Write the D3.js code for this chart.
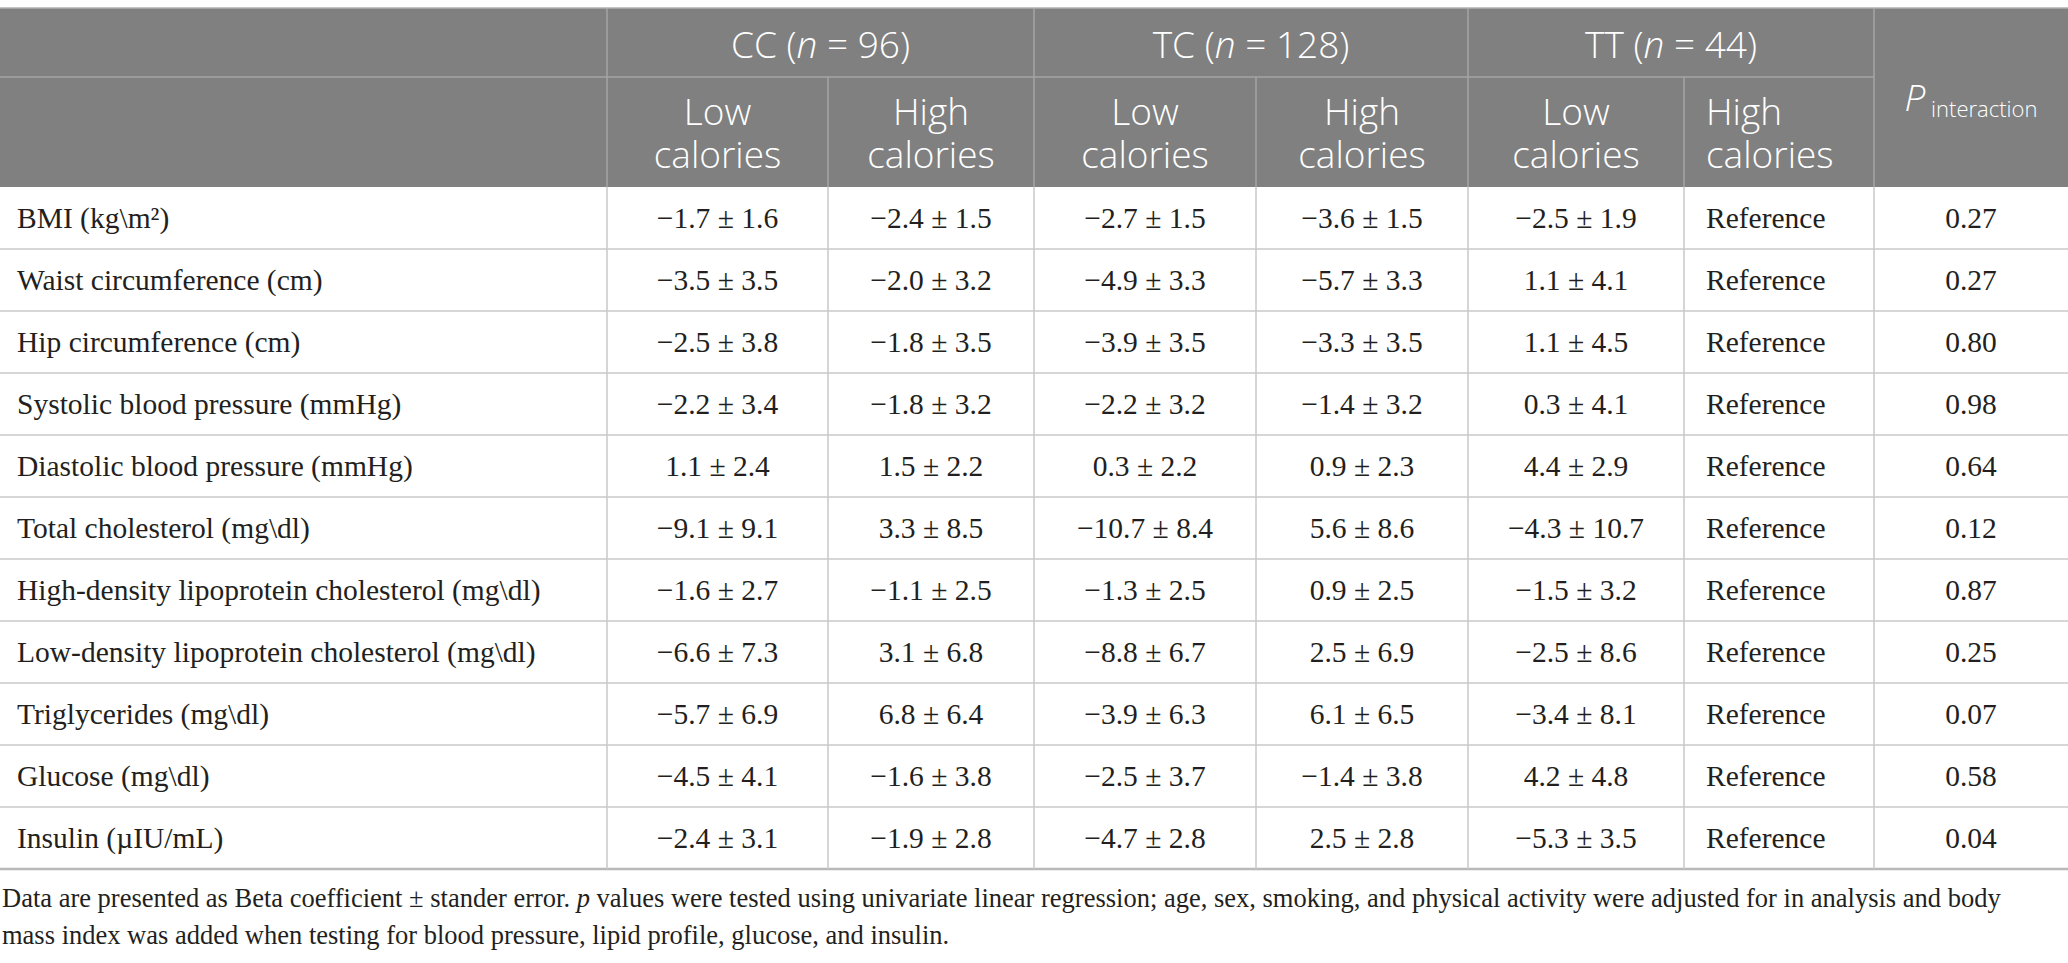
<!DOCTYPE html>
<html>
<head>
<meta charset="utf-8">
<script src="https://cdn.jsdelivr.net/npm/d3@7"></script>
<style>
  body { margin: 0; background: #fff; }
  svg { display: block; }
</style>
</head>
<body>
<svg id="table"></svg>
<script>
// row labels
const rowLabels = [
  "BMI (kg\\m²)",
  "Waist circumference (cm)",
  "Hip circumference (cm)",
  "Systolic blood pressure (mmHg)",
  "Diastolic blood pressure (mmHg)",
  "Total cholesterol (mg\\dl)",
  "High-density lipoprotein cholesterol (mg\\dl)",
  "Low-density lipoprotein cholesterol (mg\\dl)",
  "Triglycerides (mg\\dl)",
  "Glucose (mg\\dl)",
  "Insulin (µIU/mL)"
];

// beta coefficient and standard error per genotype x calorie group
const ccLowBeta  = [-1.7, -3.5, -2.5, -2.2, 1.1, -9.1, -1.6, -6.6, -5.7, -4.5, -2.4];
const ccLowSE    = [1.6, 3.5, 3.8, 3.4, 2.4, 9.1, 2.7, 7.3, 6.9, 4.1, 3.1];
const ccHighBeta = [-2.4, -2.0, -1.8, -1.8, 1.5, 3.3, -1.1, 3.1, 6.8, -1.6, -1.9];
const ccHighSE   = [1.5, 3.2, 3.5, 3.2, 2.2, 8.5, 2.5, 6.8, 6.4, 3.8, 2.8];
const tcLowBeta  = [-2.7, -4.9, -3.9, -2.2, 0.3, -10.7, -1.3, -8.8, -3.9, -2.5, -4.7];
const tcLowSE    = [1.5, 3.3, 3.5, 3.2, 2.2, 8.4, 2.5, 6.7, 6.3, 3.7, 2.8];
const tcHighBeta = [-3.6, -5.7, -3.3, -1.4, 0.9, 5.6, 0.9, 2.5, 6.1, -1.4, 2.5];
const tcHighSE   = [1.5, 3.3, 3.5, 3.2, 2.3, 8.6, 2.5, 6.9, 6.5, 3.8, 2.8];
const ttLowBeta  = [-2.5, 1.1, 1.1, 0.3, 4.4, -4.3, -1.5, -2.5, -3.4, 4.2, -5.3];
const ttLowSE    = [1.9, 4.1, 4.5, 4.1, 2.9, 10.7, 3.2, 8.6, 8.1, 4.8, 3.5];
const pInteraction = [0.27, 0.27, 0.80, 0.98, 0.64, 0.12, 0.87, 0.25, 0.07, 0.58, 0.04];

// header labels
const groupLabels = [
  {name: "CC", n: 96},
  {name: "TC", n: 128},
  {name: "TT", n: 44}
];
const subLabels = ["Low", "High"];
const referenceLabel = "Reference";

const footnote1a = "Data are presented as Beta coefficient ± stander error. ";
const footnote1b = "p";
const footnote1c = " values were tested using univariate linear regression; age, sex, smoking, and physical activity were adjusted for in analysis and body";
const footnote2 = "mass index was added when testing for blood pressure, lipid profile, glucose, and insulin.";

// ---- layout ----
const width = 2068, height = 963;
const colEdges = [0, 607, 828, 1034, 1256, 1468, 1684, 1874, 2068];
const tableTop = 8, head1Bottom = 77, headBottom = 187, tableBottom = 869;

const headFill = "#808080";
const headLine = "#a4a4a4";
const gridLine = "#c9c9c9";
const textColor = "#231f20";
const sans = "'Open Sans', sans-serif";
const serif = "'Liberation Serif', 'Times New Roman', serif";

const fmt = d3.format(".1f");
const pfmt = d3.format(".2f");
const cell = (b, s) => `${fmt(b)} ± ${fmt(s)}`;

const svg = d3.select("#table")
  .attr("width", width)
  .attr("height", height);

// row scale
const y = d3.scaleBand()
  .domain(rowLabels)
  .range([headBottom, tableBottom]);

// ---- header background ----
svg.append("rect")
  .attr("x", 0).attr("y", tableTop)
  .attr("width", width).attr("height", headBottom - tableTop)
  .attr("fill", headFill);

const hl = svg.append("g").attr("stroke", headLine).attr("stroke-width", 1.5);
// line between header rows (not under P column)
hl.append("line")
  .attr("x1", 0).attr("x2", colEdges[7])
  .attr("y1", head1Bottom).attr("y2", head1Bottom);
// vertical lines in header
[1, 3, 5, 7].forEach(i => {
  hl.append("line")
    .attr("x1", colEdges[i]).attr("x2", colEdges[i])
    .attr("y1", tableTop).attr("y2", headBottom);
});
[2, 4, 6].forEach(i => {
  hl.append("line")
    .attr("x1", colEdges[i]).attr("x2", colEdges[i])
    .attr("y1", head1Bottom).attr("y2", headBottom);
});
svg.append("line")
  .attr("x1", 0).attr("x2", width)
  .attr("y1", tableTop).attr("y2", tableTop)
  .attr("stroke", "#b0b0b0").attr("stroke-width", 1.5);

// group headers
const gh = svg.append("g")
  .attr("font-family", sans).attr("font-size", 37).attr("font-weight", 300)
  .attr("fill", "#fff")
  .attr("text-anchor", "middle");
groupLabels.forEach((g, i) => {
  const cx = (colEdges[1 + i * 2] + colEdges[3 + i * 2]) / 2;
  const t = gh.append("text").attr("x", cx).attr("y", 58);
  t.append("tspan").text(`${g.name} (`);
  t.append("tspan").attr("font-style", "italic").text("n");
  t.append("tspan").text(` = ${g.n})`);
});

// sub headers
for (let i = 0; i < 6; i++) {
  const lab = subLabels[i % 2];
  const x0 = colEdges[1 + i], x1 = colEdges[2 + i];
  const leftAlign = i === 5;
  const tx = leftAlign ? x0 + 22 : (x0 + x1) / 2;
  const t = gh.append("text")
    .attr("text-anchor", leftAlign ? "start" : "middle")
    .attr("x", tx);
  t.append("tspan").attr("x", tx).attr("y", 125).text(lab);
  t.append("tspan").attr("x", tx).attr("y", 168).text("calories");
}

// P interaction
const pt = gh.append("text")
  .attr("x", (colEdges[7] + colEdges[8]) / 2).attr("y", 111);
pt.append("tspan").attr("font-style", "italic").text("P");
pt.append("tspan").attr("font-size", 22).attr("dy", 6).text(" interaction");

// ---- body ----
const series = [
  rowLabels.map((r, i) => cell(ccLowBeta[i], ccLowSE[i])),
  rowLabels.map((r, i) => cell(ccHighBeta[i], ccHighSE[i])),
  rowLabels.map((r, i) => cell(tcLowBeta[i], tcLowSE[i])),
  rowLabels.map((r, i) => cell(tcHighBeta[i], tcHighSE[i])),
  rowLabels.map((r, i) => cell(ttLowBeta[i], ttLowSE[i])),
  rowLabels.map(() => referenceLabel),
  pInteraction.map(p => pfmt(p))
];

const body = svg.append("g")
  .attr("font-family", serif).attr("font-size", 29.5).attr("fill", textColor);

// row lines
svg.append("g").selectAll("line")
  .data(rowLabels.slice(1))
  .join("line")
  .attr("x1", 0).attr("x2", width)
  .attr("y1", d => y(d)).attr("y2", d => y(d))
  .attr("stroke", gridLine).attr("stroke-width", 1.5);

svg.append("line")
  .attr("x1", 0).attr("x2", width)
  .attr("y1", tableBottom).attr("y2", tableBottom)
  .attr("stroke", "#b9b9b9").attr("stroke-width", 2.5);

// vertical body lines
svg.append("g").selectAll("line")
  .data(colEdges.slice(1, 8))
  .join("line")
  .attr("x1", d => d).attr("x2", d => d)
  .attr("y1", headBottom).attr("y2", tableBottom)
  .attr("stroke", gridLine).attr("stroke-width", 1.5);

// labels
body.selectAll("text.label")
  .data(rowLabels)
  .join("text")
  .attr("class", "label")
  .attr("x", 17)
  .attr("y", d => y(d) + y.bandwidth() / 2 + 10)
  .text(d => d);

// values
series.forEach((vals, c) => {
  const x0 = colEdges[1 + c], x1 = colEdges[2 + c];
  const leftAlign = c === 5;
  body.selectAll(`text.c${c}`)
    .data(vals)
    .join("text")
    .attr("class", `c${c}`)
    .attr("text-anchor", leftAlign ? "start" : "middle")
    .attr("x", leftAlign ? x0 + 22 : (x0 + x1) / 2)
    .attr("y", (d, i) => y(rowLabels[i]) + y.bandwidth() / 2 + 10)
    .text(d => d);
});

// ---- footnote ----
const fn = svg.append("g")
  .attr("font-family", serif).attr("font-size", 26.5).attr("fill", textColor);
const f1 = fn.append("text").attr("x", 2).attr("y", 907);
f1.append("tspan").text(footnote1a);
f1.append("tspan").attr("font-style", "italic").text(footnote1b);
f1.append("tspan").text(footnote1c);
fn.append("text").attr("x", 2).attr("y", 944).text(footnote2);
</script>
</body>
</html>
